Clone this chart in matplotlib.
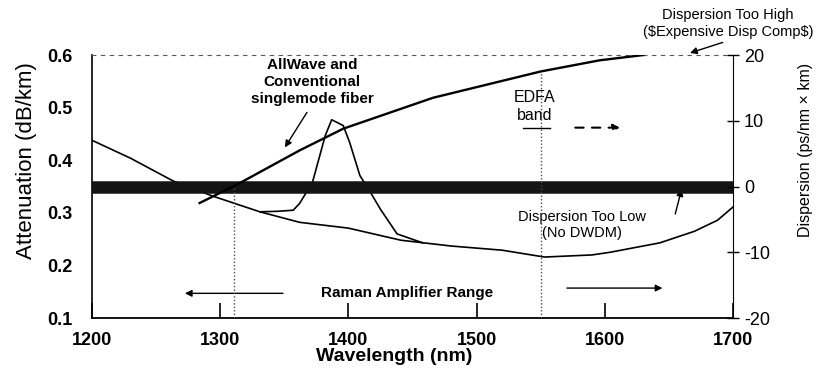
import matplotlib.pyplot as plt
import numpy as np

plt.rcParams['font.family'] = ['Liberation Sans', 'DejaVu Sans']
plt.rcParams['axes.unicode_minus'] = False

# attenuation (dB/km), low water peak fiber
wl_att = [1200, 1230, 1263, 1294, 1331, 1362, 1400, 1441, 1480, 1520, 1553,
          1590, 1604, 1643, 1670, 1688, 1700]
att = [0.438, 0.404, 0.361, 0.332, 0.302, 0.282, 0.271, 0.248, 0.237, 0.229,
       0.216, 0.220, 0.225, 0.243, 0.265, 0.286, 0.311]

# water peak of conventional fiber
wl_peak = [1331, 1345, 1357, 1362, 1372, 1382, 1387, 1396, 1401, 1409, 1417,
           1425, 1438, 1458]
att_peak = [0.302, 0.303, 0.305, 0.318, 0.358, 0.447, 0.477, 0.466, 0.434,
            0.371, 0.340, 0.307, 0.260, 0.243]

# dispersion (ps/nm x km)
wl_disp = [1284, 1315, 1362, 1396, 1466, 1550, 1596, 1630]
disp = [-2.5, 0.5, 5.5, 8.8, 13.5, 17.5, 19.2, 20.0]

# band markers (1310 / 1550 nm)
marker_wl = [1311, 1550]

x_ticks = [1200, 1300, 1400, 1500, 1600, 1700]
att_ticks = [0.1, 0.2, 0.3, 0.4, 0.5, 0.6]
disp_ticks = [-20, -10, 0, 10, 20]

fig = plt.figure(figsize=(8.16, 3.72), dpi=100)
ax = fig.add_axes([0.1127, 0.145, 0.7855, 0.707])
ax2 = ax.twinx()

ax.set_xlim(1200, 1700)
ax.set_ylim(0.1, 0.6)
ax2.set_ylim(-20, 20)

# zero dispersion band (thick, as in the scan)
ax2.axhline(0, color='0.08', lw=9, zorder=1)

ax.plot(wl_att, att, color='black', lw=1.2, zorder=3)
ax.plot(wl_peak, att_peak, color='black', lw=1.2, zorder=3)
ax2.plot(wl_disp, disp, color='black', lw=1.7, zorder=3)

# dotted band markers, from the axis up to the dispersion curve
for w in marker_wl:
    d = np.interp(w, wl_disp, disp)
    ax2.plot([w, w], [-20, d], color='0.3', lw=1, ls=(0, (1, 1.5)), zorder=2)

# axes styling
ax.set_xticks(x_ticks)
ax.set_yticks(att_ticks)
ax.set_yticklabels([f'{v:.1f}' for v in att_ticks])
ax2.set_yticks(disp_ticks)
ax.tick_params(axis='x', direction='in', length=11, width=1.2, pad=10,
               labelsize=13)
ax.tick_params(axis='y', length=0, pad=14, labelsize=13)
for lab in ax.get_xticklabels() + ax.get_yticklabels():
    lab.set_fontweight('bold')
ax2.tick_params(axis='y', direction='inout', length=8, width=1, pad=4,
                labelsize=13)

ax.spines['top'].set_linestyle((0, (3, 5)))
ax.spines['top'].set_color('0.35')
ax.spines['left'].set_linewidth(1.2)
ax.spines['bottom'].set_linewidth(1.3)
for s in ['top', 'left', 'bottom']:
    ax2.spines[s].set_visible(False)
ax.spines['right'].set_visible(False)

ax.set_xlabel('Wavelength (nm)', fontsize=14, fontweight='bold')
ax.set_ylabel('Attenuation (dB/km)', fontsize=16)
ax2.set_ylabel('Dispersion (ps/nm \u00d7 km)', fontsize=11.5)
ax.xaxis.set_label_coords(0.471, -0.112)
ax.yaxis.set_label_coords(-0.085, 0.60)
ax2.yaxis.set_label_coords(1.102, 0.64)

arrow = dict(arrowstyle='-|>', color='black', lw=1, mutation_scale=10,
             shrinkA=0, shrinkB=0)

ax.text(1371.6, 0.549, 'AllWave and\nConventional\nsinglemode fiber',
        ha='center', va='center', fontsize=11, fontweight='bold',
        linespacing=1.25)
ax.annotate('', xy=(1350.5, 0.4245), xytext=(1367.7, 0.491), arrowprops=arrow)

ax.text(1545.6, 0.502, 'EDFA\nband', ha='center', va='center', fontsize=11.5,
        linespacing=1.2)
ax.plot([1536, 1557], [0.462, 0.462], color='black', lw=1)
ax.annotate('', xy=(1612, 0.462), xytext=(1577, 0.462),
            arrowprops=dict(arrowstyle='-|>', color='black', lw=1.5,
                            ls=(0, (4, 4)), mutation_scale=10,
                            shrinkA=0, shrinkB=0))

ax.text(1696, 0.66, 'Dispersion Too High\n(\\$Expensive Disp Comp\\$)',
        ha='center', va='center', fontsize=10.5, linespacing=1.25,
        clip_on=False)
ax.annotate('', xy=(1666.5, 0.604), xytext=(1692, 0.624),
            annotation_clip=False, arrowprops=arrow)

ax.text(1582, 0.277, 'Dispersion Too Low\n(No DWDM)', ha='center',
        va='center', fontsize=10.5, linespacing=1.2)
ax.annotate('', xy=(1660, 0.345), xytext=(1655, 0.298), arrowprops=arrow)

ax.text(1446, 0.147, 'Raman Amplifier Range', ha='center', va='center',
        fontsize=11, fontweight='bold')
ax.annotate('', xy=(1272.5, 0.147), xytext=(1349, 0.147), arrowprops=arrow)
ax.annotate('', xy=(1645, 0.157), xytext=(1570.5, 0.157), arrowprops=arrow)

fig.savefig('out.png', dpi=100)
